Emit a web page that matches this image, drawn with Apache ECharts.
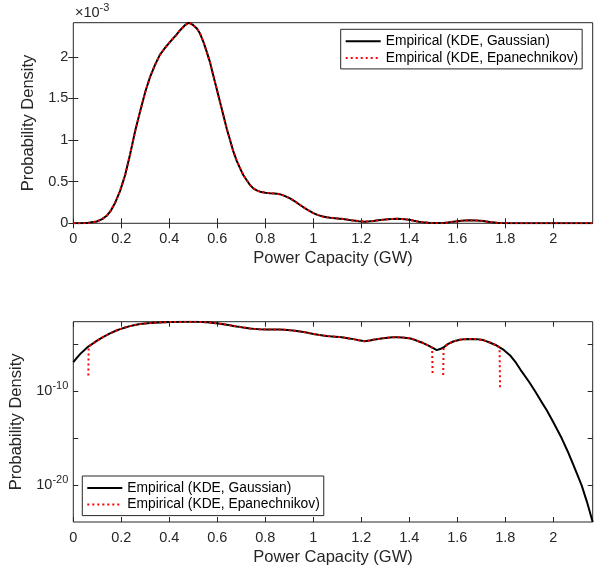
<!DOCTYPE html>
<html><head><meta charset="utf-8">
<script src="https://cdn.jsdelivr.net/npm/echarts@6/dist/echarts.min.js"></script>
<style>html,body{margin:0;padding:0;background:#fff}#c{width:600px;height:573px}</style>
</head><body><div id="c"></div>
<script>
const seriesNames = ['Empirical (KDE, Gaussian)', 'Empirical (KDE, Epanechnikov)'];
const xTicks = [0, 0.2, 0.4, 0.6, 0.8, 1, 1.2, 1.4, 1.6, 1.8, 2];
const linTicks = [0, 0.5e-3, 1e-3, 1.5e-3, 2e-3];
const logTickExps = [-20, -15, -10, -5];
const logLabelExps = [-20, -10];
const xMax = 2.164;
const linMax = 2.41e-3;
const logMin = 1.3e-24;

const gaussX = [0, 0.028, 0.0625, 0.0975, 0.12, 0.139, 0.155, 0.175, 0.195, 0.216, 0.236, 0.257, 0.278, 0.30, 0.32, 0.34, 0.36, 0.38, 0.403, 0.425, 0.445, 0.465, 0.482, 0.50, 0.515, 0.528, 0.542, 0.556, 0.57, 0.583, 0.597, 0.611, 0.625, 0.639, 0.653, 0.667, 0.681, 0.695, 0.708, 0.722, 0.736, 0.75, 0.764, 0.778, 0.80, 0.82, 0.84, 0.86, 0.88, 0.903, 0.925, 0.945, 0.966, 0.986, 1.0, 1.02, 1.04, 1.056, 1.07, 1.09, 1.11, 1.125, 1.15, 1.167, 1.19, 1.215, 1.235, 1.25, 1.27, 1.29, 1.31, 1.33, 1.35, 1.37, 1.39, 1.405, 1.42, 1.44, 1.458, 1.48, 1.50, 1.514, 1.528, 1.542, 1.56, 1.583, 1.61, 1.63, 1.653, 1.68, 1.708, 1.735, 1.764, 1.79, 1.82, 1.845, 1.868, 1.90, 1.924, 1.95, 1.972, 2.0, 2.035, 2.06, 2.083, 2.10, 2.118, 2.14, 2.164];
const gaussY = [1.2e-7, 8.7e-7, 5.5e-6, 2.2e-5, 5.0e-5, 9.0e-5, 1.45e-4, 2.5e-4, 3.9e-4, 5.8e-4, 8.2e-4, 1.10e-3, 1.34e-3, 1.58e-3, 1.76e-3, 1.90e-3, 2.02e-3, 2.10e-3, 2.18e-3, 2.25e-3, 2.32e-3, 2.38e-3, 2.41e-3, 2.38e-3, 2.34e-3, 2.28e-3, 2.18e-3, 2.06e-3, 1.93e-3, 1.78e-3, 1.62e-3, 1.46e-3, 1.30e-3, 1.14e-3, 1.00e-3, 0.86e-3, 0.75e-3, 0.66e-3, 0.58e-3, 0.52e-3, 0.46e-3, 0.42e-3, 0.395e-3, 0.38e-3, 0.368e-3, 0.362e-3, 0.358e-3, 0.35e-3, 0.33e-3, 0.30e-3, 0.26e-3, 0.22e-3, 0.18e-3, 0.145e-3, 0.122e-3, 0.098e-3, 0.082e-3, 0.074e-3, 0.068e-3, 0.062e-3, 0.056e-3, 0.051e-3, 0.040e-3, 0.034e-3, 0.026e-3, 0.020e-3, 0.024e-3, 0.029e-3, 0.036e-3, 0.043e-3, 0.049e-3, 0.053e-3, 0.055e-3, 0.052e-3, 0.046e-3, 0.040e-3, 0.030e-3, 0.019e-3, 0.013e-3, 7.0e-6, 3.7e-6, 2.3e-6, 3.0e-6, 4.4e-6, 1.0e-5, 1.9e-5, 2.9e-5, 3.4e-5, 3.6e-5, 3.4e-5, 2.7e-5, 1.5e-5, 7.1e-6, 2.8e-6, 6.3e-7, 1.0e-7, 1.26e-8, 8.9e-10, 1.0e-10, 7.9e-12, 1.0e-12, 5.0e-14, 1.0e-15, 4.0e-17, 1.6e-18, 1.4e-19, 1.0e-20, 1.8e-22, 1.3e-24];

const epanX = [0, 0.028, 0.062, 0.0625, 0.064, 0.0975, 0.12, 0.139, 0.155, 0.175, 0.195, 0.216, 0.236, 0.257, 0.278, 0.30, 0.32, 0.34, 0.36, 0.38, 0.403, 0.425, 0.445, 0.465, 0.482, 0.50, 0.515, 0.528, 0.542, 0.556, 0.57, 0.583, 0.597, 0.611, 0.625, 0.639, 0.653, 0.667, 0.681, 0.695, 0.708, 0.722, 0.736, 0.75, 0.764, 0.778, 0.80, 0.82, 0.84, 0.86, 0.88, 0.903, 0.925, 0.945, 0.966, 0.986, 1.0, 1.02, 1.04, 1.056, 1.07, 1.09, 1.11, 1.125, 1.15, 1.167, 1.19, 1.215, 1.235, 1.25, 1.27, 1.29, 1.31, 1.33, 1.35, 1.37, 1.39, 1.405, 1.42, 1.44, 1.458, 1.48, 1.495, 1.497, 1.52, 1.541, 1.543, 1.56, 1.583, 1.61, 1.63, 1.653, 1.68, 1.708, 1.735, 1.764, 1.776, 1.778, 1.80, 2.0, 2.164];
const epanY = [0, 0, 0, 4.6e-9, 5.8e-6, 2.2e-5, 5.0e-5, 9.0e-5, 1.45e-4, 2.5e-4, 3.9e-4, 5.8e-4, 8.2e-4, 1.10e-3, 1.34e-3, 1.58e-3, 1.76e-3, 1.90e-3, 2.02e-3, 2.10e-3, 2.18e-3, 2.25e-3, 2.32e-3, 2.38e-3, 2.41e-3, 2.38e-3, 2.34e-3, 2.28e-3, 2.18e-3, 2.06e-3, 1.93e-3, 1.78e-3, 1.62e-3, 1.46e-3, 1.30e-3, 1.14e-3, 1.00e-3, 0.86e-3, 0.75e-3, 0.66e-3, 0.58e-3, 0.52e-3, 0.46e-3, 0.42e-3, 0.395e-3, 0.38e-3, 0.368e-3, 0.362e-3, 0.358e-3, 0.35e-3, 0.33e-3, 0.30e-3, 0.26e-3, 0.22e-3, 0.18e-3, 0.145e-3, 0.122e-3, 0.098e-3, 0.082e-3, 0.074e-3, 0.068e-3, 0.062e-3, 0.056e-3, 0.051e-3, 0.040e-3, 0.034e-3, 0.026e-3, 0.020e-3, 0.024e-3, 0.029e-3, 0.036e-3, 0.043e-3, 0.049e-3, 0.053e-3, 0.055e-3, 0.052e-3, 0.046e-3, 0.040e-3, 0.030e-3, 0.019e-3, 0.013e-3, 7.0e-6, 4.0e-6, 4.3e-9, 0, 5.4e-9, 4.6e-6, 1.0e-5, 1.9e-5, 2.9e-5, 3.4e-5, 3.6e-5, 3.4e-5, 2.7e-5, 1.5e-5, 7.1e-6, 4.6e-6, 2.7e-10, 0, 0, 0];

const FONT = 'Liberation Sans, Arial, Helvetica, sans-serif';
const TXT = '#262626';
const AX = '#262626';

const pairs = (xs, ys, logMode) => xs.map((x, i) => [x, (logMode && ys[i] <= 0) ? null : ys[i]]);

const tickStyle = { inside: true, length: 5, lineStyle: { color: AX, width: 1 } };
function xAxisPair(grid, withName) {
  return [
    { type: 'value', gridIndex: grid, position: 'bottom', min: 0, max: xMax,
      axisLine: { show: false }, splitLine: { show: false },
      axisTick: Object.assign({ customValues: xTicks }, tickStyle),
      axisLabel: { customValues: xTicks, color: TXT, fontFamily: FONT, fontSize: 14.5, margin: 8,
                   formatter: v => String(Math.round(v * 10) / 10) },
      name: withName, nameLocation: 'middle', nameGap: 27,
      nameTextStyle: { color: TXT, fontFamily: FONT, fontSize: 16.5 } },
    { type: 'value', gridIndex: grid, position: 'top', min: 0, max: xMax,
      axisLine: { show: false }, splitLine: { show: false },
      axisTick: Object.assign({ customValues: xTicks }, tickStyle),
      axisLabel: { show: false } }
  ];
}

const logLo = Math.log10(logMin), logHi = Math.log10(linMax);

const legendBase = {
  data: seriesNames, orient: 'vertical', itemWidth: 35, itemHeight: 14, itemGap: 2.6,
  padding: [5, 4, 4, 4], borderColor: AX, borderWidth: 1, backgroundColor: '#fff', borderRadius: 0,
  itemStyle: { opacity: 0 },
  textStyle: { color: '#000', fontFamily: FONT, fontSize: 13.8 }, selectedMode: false
};

const option = {
  animation: false,
  backgroundColor: '#fff',
  textStyle: { fontFamily: FONT },
  grid: [
    { left: 73.3, right: 7.3, top: 22.7, bottom: 349.7, show: true, borderColor: AX, borderWidth: 1, backgroundColor: 'transparent' },
    { left: 73.3, right: 7.3, top: 321.7, bottom: 51, show: true, borderColor: AX, borderWidth: 1, backgroundColor: 'transparent' }
  ],
  xAxis: [...xAxisPair(0, 'Power Capacity (GW)'), ...xAxisPair(1, 'Power Capacity (GW)')],
  yAxis: [
    { type: 'value', gridIndex: 0, position: 'left', min: 0, max: linMax,
      axisLine: { show: false }, splitLine: { show: false },
      axisTick: Object.assign({ customValues: linTicks }, tickStyle),
      axisLabel: { customValues: linTicks, color: TXT, fontFamily: FONT, fontSize: 14.5, margin: 5,
                   formatter: v => String(Math.round(v * 1e4) / 10) },
      name: 'Probability Density', nameLocation: 'middle', nameGap: 32,
      nameTextStyle: { color: TXT, fontFamily: FONT, fontSize: 16.5 } },
    { type: 'value', gridIndex: 0, position: 'right', min: 0, max: linMax,
      axisLine: { show: false }, splitLine: { show: false },
      axisTick: Object.assign({ customValues: linTicks }, tickStyle),
      axisLabel: { show: false } },
    { type: 'log', logBase: 10, gridIndex: 1, position: 'left', min: logMin, max: linMax, show: false },
    { type: 'value', gridIndex: 1, position: 'left', min: logLo, max: logHi,
      axisLine: { show: false }, splitLine: { show: false },
      axisTick: Object.assign({ customValues: logTickExps }, tickStyle),
      axisLabel: { customValues: logLabelExps, color: TXT, fontFamily: FONT, margin: 5,
                   formatter: v => '{b|10}{s|' + v + '}',
                   rich: { b: { fontSize: 14.5, fontFamily: FONT, color: TXT },
                           s: { fontSize: 11, fontFamily: FONT, color: TXT, padding: [0, 0, 11, 0] } } },
      name: 'Probability Density', nameLocation: 'middle', nameGap: 46,
      nameTextStyle: { color: TXT, fontFamily: FONT, fontSize: 16.5 } },
    { type: 'value', gridIndex: 1, position: 'right', min: logLo, max: logHi,
      axisLine: { show: false }, splitLine: { show: false },
      axisTick: Object.assign({ customValues: logTickExps }, tickStyle),
      axisLabel: { show: false } }
  ],
  legend: [
    Object.assign({ left: 340.7, top: 29.3 }, legendBase),
    Object.assign({ left: 82.3, top: 476 }, legendBase)
  ],
  graphic: [
    { type: 'text', left: 75, top: 2,
      style: { text: '{a|×10}{b|-3}', rich: { a: { fontSize: 14.5, fontFamily: FONT, fill: TXT, color: TXT },
                                              b: { fontSize: 11, fontFamily: FONT, fill: TXT, color: TXT, padding: [0, 0, 11, 0] } } } }
  ],
  series: [
    { name: seriesNames[0], type: 'line', xAxisIndex: 0, yAxisIndex: 0, data: pairs(gaussX, gaussY, false),
      symbol: 'none', color: '#000', lineStyle: { color: '#000', width: 2 }, z: 2 },
    { name: seriesNames[1], type: 'line', xAxisIndex: 0, yAxisIndex: 0, data: pairs(epanX, epanY, false),
      symbol: 'none', color: '#ff0000', lineStyle: { color: '#ff0000', width: 2, type: [2, 3] }, z: 3 },
    { name: seriesNames[0], type: 'line', xAxisIndex: 2, yAxisIndex: 2, data: pairs(gaussX, gaussY, true),
      symbol: 'none', color: '#000', lineStyle: { color: '#000', width: 2 }, z: 2 },
    { name: seriesNames[1], type: 'line', xAxisIndex: 2, yAxisIndex: 2, data: pairs(epanX, epanY, true),
      symbol: 'none', connectNulls: false, color: '#ff0000', lineStyle: { color: '#ff0000', width: 2, type: [2, 3] }, z: 3 }
  ]
};
const chart = echarts.init(document.getElementById('c'), null, { renderer: 'canvas' });
chart.setOption(option);
</script></body></html>
